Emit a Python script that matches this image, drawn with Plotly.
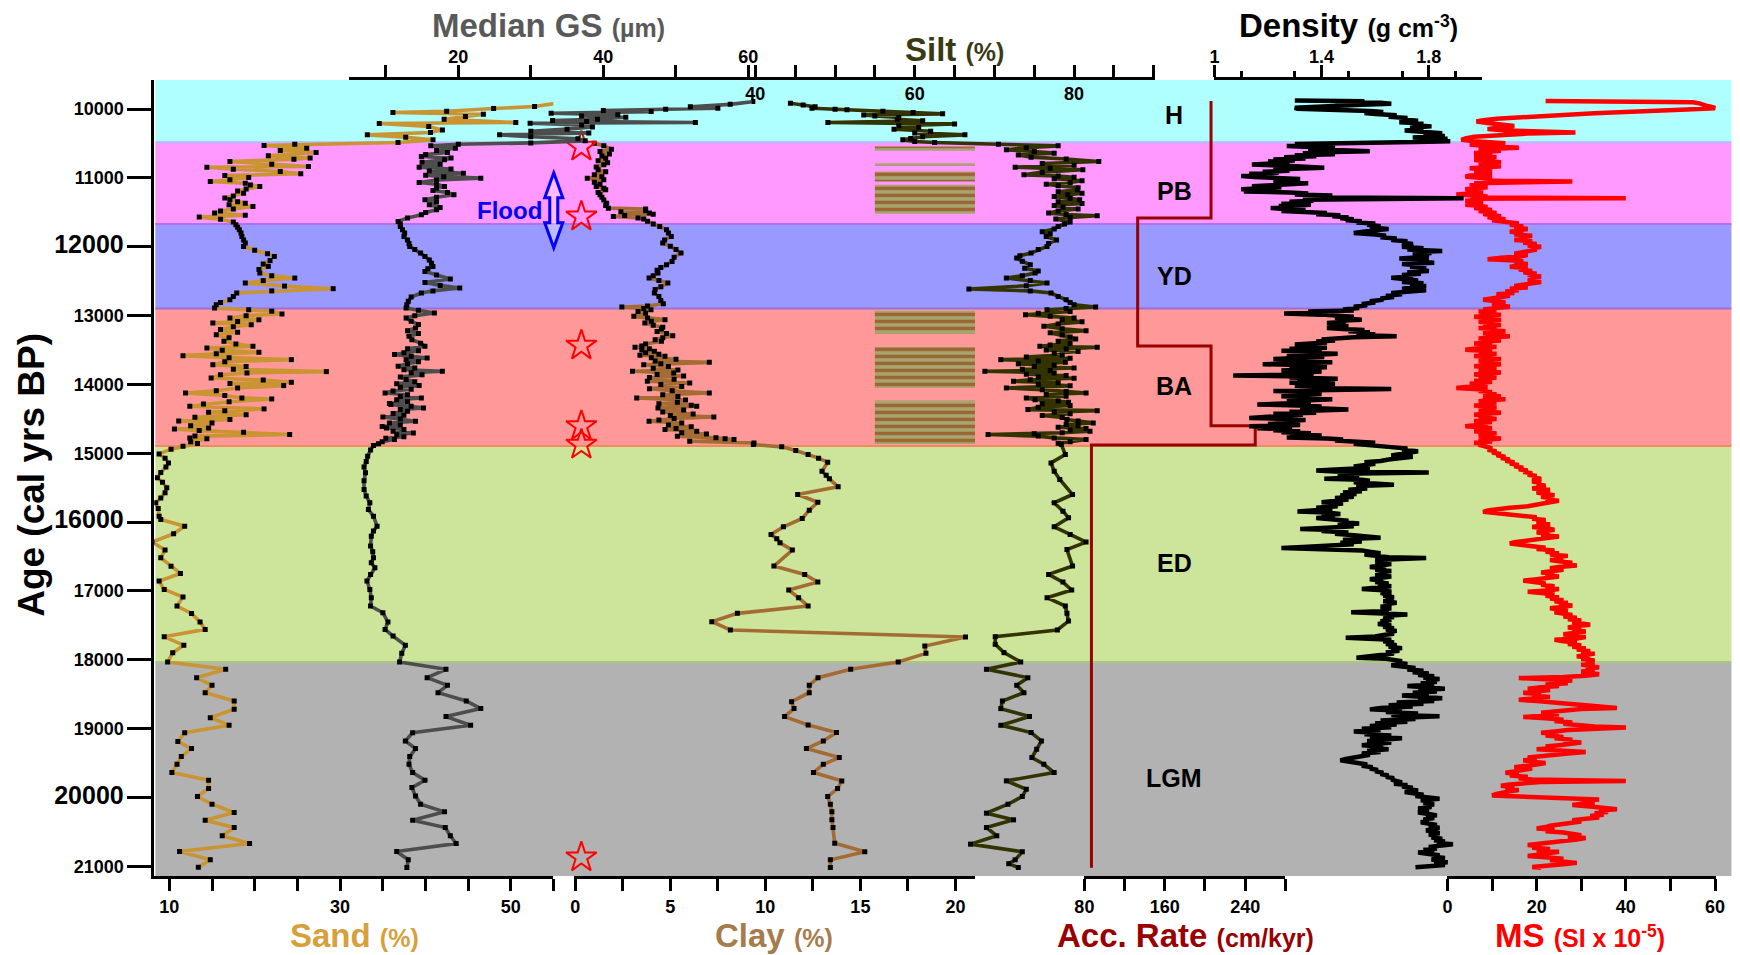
import plotly.graph_objects as go

W, H = 1740, 955
FONT = "Liberation Sans"

# ---------------------------------------------------------------- data
AGE_TICKS = list(range(10000, 21001, 1000))
AGE_TICKS_LARGE = [12000, 16000, 20000]

BAND_NAMES = ["H", "PB", "YD", "BA", "ED", "LGM"]
BAND_EDGES = [9575, 10480, 11670, 12895, 14895, 18030, 21142]
BAND_LABEL_AGES = [10091, 11196, 12420, 14026, 16600, 19720]

# (age cal yr BP, sand %)
SAND = [
    (9914, 55.4), (9962, 52.8), (9991, 48.0), (10030, 42.5), (10049, 36.2), (10073, 46.8), (10107, 44.7),
    (10146, 42.2), (10194, 50.6), (10209, 34.6), (10252, 40.4), (10301, 42.0), (10339, 40.6), (10373, 33.2),
    (10407, 37.7), (10446, 40.9), (10485, 36.8),
    (10509, 24.7), (10528, 21.1), (10567, 26.1), (10600, 23.0), (10630, 27.2), (10678, 21.6), (10710, 26.5),
    (10727, 24.6), (10760, 17.1), (10800, 22.0), (10833, 26.3), (10843, 14.4), (10872, 17.5), (10905, 23.0),
    (10939, 25.4), (10965, 16.5), (10993, 19.3), (11026, 17.1), (11051, 14.8), (11075, 18.9), (11100, 19.5),
    (11123, 20.6), (11160, 19.0), (11190, 18.0), (11220, 18.7), (11260, 17.5), (11290, 16.5), (11317, 17.1),
    (11345, 18.0), (11365, 18.9), (11390, 17.0), (11413, 19.8), (11450, 17.5), (11480, 16.0), (11510, 15.3),
    (11540, 18.9), (11568, 13.5), (11600, 16.0), (11640, 17.5), (11679, 17.8),
    (11715, 18.0), (11752, 18.2), (11800, 18.4), (11849, 18.5), (11900, 18.7), (11946, 18.9), (11994, 18.7),
    (12050, 20.0), (12100, 21.5), (12139, 22.3), (12200, 21.8), (12250, 21.0), (12284, 21.6), (12330, 20.5),
    (12381, 20.6), (12420, 22.0), (12454, 24.7), (12490, 21.0), (12526, 18.9), (12570, 23.5), (12608, 29.2),
    (12640, 22.0), (12671, 17.9), (12720, 17.5), (12768, 17.1), (12810, 16.0), (12841, 15.5), (12889, 15.3),
    (12913, 19.3), (12935, 22.0), (12976, 23.2), (13000, 19.0), (13034, 17.1), (13060, 20.5), (13085, 18.0),
    (13107, 15.1), (13131, 19.6), (13160, 17.5), (13200, 16.0), (13240, 18.0), (13276, 15.5), (13320, 17.0),
    (13373, 16.4), (13410, 17.8), (13445, 19.8), (13470, 14.4), (13503, 16.2), (13532, 20.5), (13555, 15.5),
    (13581, 11.6), (13610, 17.0), (13639, 24.3), (13670, 16.5), (13712, 15.1), (13740, 19.0), (13780, 17.5),
    (13813, 28.4), (13832, 19.1), (13860, 16.0), (13905, 14.9), (13935, 21.0), (13968, 24.3), (13987, 17.1),
    (14016, 23.4), (14050, 18.0), (14090, 15.5), (14123, 11.9), (14160, 16.5), (14195, 18.5), (14210, 22.0),
    (14250, 17.0), (14285, 14.0), (14316, 12.4), (14355, 21.1), (14380, 16.5), (14403, 14.6), (14440, 19.0),
    (14475, 13.0), (14510, 17.1), (14530, 11.1), (14560, 15.0), (14600, 12.5), (14631, 14.6), (14645, 10.6),
    (14670, 13.5), (14694, 18.7), (14727, 24.1), (14750, 13.0), (14776, 12.4), (14790, 14.4), (14830, 12.5),
    (14858, 13.3), (14897, 11.6),
    (14940, 10.2), (15008, 8.8), (15070, 9.5), (15139, 9.9), (15200, 9.6), (15280, 9.0), (15356, 8.6),
    (15420, 9.2), (15500, 9.7), (15574, 9.5), (15650, 9.0), (15719, 8.4), (15800, 8.7), (15913, 8.8),
    (15960, 9.0), (16058, 11.8), (16169, 10.5), (16290, 8.0), (16406, 9.5), (16518, 9.0), (16639, 10.2),
    (16745, 11.3), (16856, 8.8), (16977, 9.4), (17089, 11.6), (17219, 10.9), (17326, 12.6), (17451, 13.6),
    (17558, 14.2), (17664, 9.4), (17790, 11.7), (17897, 10.4), (18032, 9.8),
    (18138, 16.6), (18259, 13.2), (18371, 15.0), (18477, 14.2), (18598, 17.6), (18719, 17.6), (18840, 14.8),
    (18951, 17.0), (19058, 11.8), (19188, 11.0), (19290, 12.6), (19406, 11.4), (19517, 10.9), (19638, 10.3),
    (19749, 14.6), (19870, 14.6), (19986, 13.3), (20098, 15.0), (20219, 17.6), (20330, 14.2), (20436, 17.6),
    (20557, 16.2), (20669, 19.4), (20785, 11.2), (20906, 14.8), (21012, 13.4),
]

# (age, median grain size um)
MEDIAN_GS = [
    (9889, 60.8), (9930, 57.5), (9965, 52.0), (9986, 55.8), (10001, 48.6), (10020, 40.0), (10035, 46.6),
    (10059, 32.8), (10080, 42.0), (10100, 37.0), (10117, 43.1), (10146, 39.2), (10165, 33.0), (10180, 37.7),
    (10194, 52.7), (10204, 29.9), (10230, 37.0), (10260, 38.5), (10290, 35.0), (10320, 30.0), (10345, 38.0),
    (10373, 25.7), (10400, 30.0), (10430, 36.5), (10460, 37.5), (10490, 30.0),
    (10510, 20.0), (10533, 16.2), (10567, 19.6), (10600, 17.0), (10630, 18.5), (10660, 15.5), (10688, 14.9),
    (10710, 19.0), (10736, 18.1), (10770, 15.0), (10800, 17.5), (10843, 14.6), (10870, 19.0), (10900, 16.0),
    (10930, 20.7), (10960, 15.5), (10980, 18.0), (11002, 23.1), (11030, 17.0), (11065, 14.6), (11090, 17.0),
    (11123, 18.1), (11150, 17.0), (11180, 16.5), (11210, 18.5), (11244, 19.4), (11280, 17.0), (11317, 15.4),
    (11350, 17.0), (11390, 16.0), (11430, 17.5), (11462, 17.0), (11500, 15.5), (11534, 14.9), (11580, 13.0),
    (11631, 11.7),
    (11670, 12.0), (11704, 12.0), (11750, 12.3), (11800, 12.6), (11849, 12.5), (11900, 13.0), (11950, 13.2),
    (11994, 13.3), (12040, 14.0), (12090, 14.8), (12139, 15.4), (12190, 16.0), (12240, 16.3), (12284, 16.5),
    (12320, 15.8), (12357, 15.4), (12410, 17.0), (12468, 18.9), (12517, 15.4), (12560, 17.5), (12599, 20.2),
    (12640, 16.5), (12671, 14.9), (12730, 13.5), (12792, 13.1), (12840, 12.9), (12889, 12.8),
    (12920, 14.5), (12962, 16.7), (13000, 14.0), (13034, 12.8), (13080, 13.5), (13130, 14.5), (13179, 14.1),
    (13220, 13.0), (13260, 14.5), (13300, 13.2), (13349, 13.6), (13400, 14.8), (13445, 15.4), (13480, 13.0),
    (13510, 14.5), (13540, 12.5), (13566, 11.2), (13590, 13.5), (13615, 15.7), (13640, 12.8), (13670, 14.5),
    (13700, 13.0), (13736, 11.7), (13760, 14.0), (13785, 12.5), (13808, 17.8), (13830, 13.5), (13860, 15.0),
    (13890, 12.0), (13929, 12.8), (13960, 14.0), (13990, 11.5), (14016, 14.6), (14040, 12.0), (14070, 13.5),
    (14095, 11.0), (14123, 9.9), (14150, 13.0), (14175, 12.0), (14195, 14.9), (14220, 11.5), (14250, 13.0),
    (14275, 10.5), (14292, 10.7), (14315, 13.5), (14340, 15.2), (14365, 12.0), (14390, 13.0), (14420, 11.0),
    (14445, 12.5), (14471, 9.6), (14500, 12.0), (14534, 14.1), (14560, 10.5), (14590, 12.0), (14610, 9.5),
    (14631, 10.1), (14655, 12.5), (14680, 11.0), (14703, 13.8), (14730, 11.5), (14760, 12.5), (14780, 10.0),
    (14800, 11.2), (14830, 9.5), (14860, 9.0), (14887, 8.3),
    (14950, 7.9), (15042, 7.5), (15120, 7.3), (15200, 7.0), (15284, 7.2), (15400, 7.0), (15526, 7.0),
    (15620, 7.3), (15719, 7.8), (15816, 7.6), (15913, 8.3), (16058, 8.8), (16130, 8.3), (16203, 8.0),
    (16348, 7.9), (16430, 8.2), (16518, 8.3), (16590, 8.0), (16663, 8.5), (16760, 7.9), (16856, 7.4),
    (16977, 7.8), (17098, 8.0), (17219, 7.9), (17316, 9.6), (17451, 10.3), (17558, 9.9), (17655, 11.0),
    (17790, 12.7), (17906, 12.2), (18032, 11.9),
    (18138, 18.3), (18259, 15.7), (18371, 18.5), (18477, 17.2), (18598, 21.1), (18709, 23.1), (18825, 18.3),
    (18951, 21.7), (19058, 13.7), (19179, 12.7), (19290, 14.1), (19406, 13.3), (19517, 13.2), (19638, 13.7),
    (19749, 15.4), (19856, 13.6), (19977, 14.1), (20098, 14.8), (20209, 18.1), (20330, 13.7), (20436, 18.2),
    (20557, 18.9), (20669, 19.7), (20785, 11.5), (20906, 13.1), (21017, 12.9),
]

# (age, clay %)
CLAY = [
    (10494, 1.0), (10530, 1.5), (10581, 1.9), (10615, 1.3), (10650, 1.8), (10680, 1.4), (10712, 1.6),
    (10750, 1.2), (10780, 1.7), (10809, 1.5), (10840, 1.1), (10881, 1.2), (10910, 1.6), (10954, 1.0),
    (10980, 1.4), (11002, 0.63), (11026, 1.5), (11060, 1.0), (11090, 1.3), (11123, 1.1), (11150, 1.5),
    (11172, 1.6), (11210, 1.2), (11244, 1.3), (11280, 1.4), (11320, 1.5), (11365, 1.65), (11400, 1.6),
    (11438, 1.74), (11450, 3.7), (11476, 3.7), (11490, 2.4), (11510, 3.9), (11525, 4.1), (11545, 2.6),
    (11559, 2.0), (11580, 3.3), (11597, 3.6), (11630, 3.8), (11670, 4.1),
    (11704, 4.44), (11750, 4.8), (11800, 4.9), (11849, 5.05), (11900, 4.7), (11946, 4.6), (11990, 5.0),
    (12040, 5.3), (12091, 5.56), (12150, 5.2), (12212, 5.09), (12260, 4.8), (12300, 4.5), (12340, 4.3),
    (12381, 4.35), (12420, 4.1), (12454, 3.88), (12490, 4.4), (12526, 4.87), (12580, 4.5), (12620, 4.2),
    (12671, 4.16), (12720, 4.4), (12780, 4.5), (12826, 4.63), (12860, 3.8), (12874, 2.45),
    (12895, 3.6), (12913, 3.98), (12940, 3.3), (12965, 3.7), (13010, 3.08), (13034, 3.8), (13058, 4.72),
    (13080, 4.0), (13107, 3.66), (13140, 4.1), (13170, 4.6), (13194, 4.53), (13230, 4.3), (13260, 4.8),
    (13291, 5.13), (13320, 4.6), (13350, 4.2), (13373, 4.53), (13410, 3.7), (13440, 3.5), (13460, 3.14),
    (13480, 3.9), (13500, 3.5), (13518, 4.16), (13540, 3.7), (13560, 4.4), (13575, 3.4), (13590, 4.72),
    (13610, 4.0), (13635, 5.3), (13660, 4.2), (13678, 7.05), (13700, 4.5), (13712, 3.6), (13740, 4.9),
    (13765, 4.1), (13790, 5.4), (13808, 3.01), (13832, 5.18), (13855, 4.3), (13875, 5.7), (13900, 3.9),
    (13925, 5.2), (13953, 3.79), (13978, 6.02), (14000, 4.5), (14030, 5.6), (14060, 3.9), (14090, 5.1),
    (14123, 7.05), (14150, 4.6), (14175, 5.4), (14195, 3.23), (14225, 5.8), (14258, 5.37), (14280, 4.4),
    (14300, 6.1), (14316, 6.39), (14340, 4.35), (14370, 5.7), (14400, 4.6), (14430, 6.2), (14450, 5.0),
    (14471, 7.29), (14495, 5.2), (14515, 4.4), (14534, 3.88), (14560, 5.6), (14590, 4.9), (14615, 6.1),
    (14638, 5.3), (14655, 4.72), (14679, 6.39), (14700, 5.6), (14720, 6.9), (14752, 5.37), (14775, 7.4),
    (14790, 7.88), (14800, 8.35), (14824, 6.02), (14850, 9.4), (14873, 9.37),
    (14906, 10.86), (14960, 11.6), (15018, 12.25), (15070, 12.8), (15129, 13.28), (15260, 12.98),
    (15320, 13.2), (15371, 13.37), (15487, 13.83), (15598, 11.7), (15710, 12.76), (15826, 12.31),
    (15947, 11.94), (16068, 10.95), (16179, 10.3), (16240, 10.6), (16300, 10.77), (16406, 11.42),
    (16638, 10.45), (16759, 12.07), (16871, 12.76), (16987, 11.23), (17098, 11.75), (17219, 12.25),
    (17325, 8.53), (17446, 7.18), (17567, 8.16), (17669, 20.53), (17800, 18.39), (17906, 18.45),
    (18032, 16.99),
    (18138, 14.49), (18259, 12.77), (18370, 12.31), (18477, 12.31), (18608, 11.38), (18709, 11.51),
    (18825, 11.01), (18946, 12.25), (19057, 13.74), (19178, 13.05), (19290, 12.16), (19420, 13.89),
    (19517, 13.05), (19638, 12.53), (19759, 14.02), (19870, 13.8), (19986, 13.28), (20098, 13.42),
    (20209, 13.5), (20325, 13.5), (20436, 13.56), (20664, 13.65), (20789, 15.23), (20906, 13.42),
    (21017, 13.42),
]

# (age, silt %)
SILT = [
    (9914, 44.4), (9940, 46.0), (9965, 47.5), (9986, 47.1), (10000, 50.0), (10010, 51.5), (10030, 56.0),
    (10049, 59.8), (10068, 63.5), (10083, 53.6), (10100, 55.0), (10120, 58.0), (10146, 57.8), (10170, 61.0),
    (10194, 49.1), (10214, 65.0), (10240, 58.0), (10265, 60.5), (10291, 57.4), (10320, 62.0), (10345, 60.0),
    (10373, 66.3), (10400, 61.0), (10425, 59.5), (10446, 58.5), (10470, 60.0), (10485, 62.5), (10510, 70.5),
    (10533, 78.0),
    (10560, 74.0), (10591, 71.5), (10615, 75.0), (10639, 77.5), (10665, 73.0), (10697, 74.6), (10725, 79.0),
    (10760, 83.1), (10790, 76.0), (10815, 80.0), (10843, 72.6), (10860, 77.0), (10881, 81.1), (10915, 76.0),
    (10954, 73.7), (10970, 78.0), (10988, 80.0), (11010, 77.5), (11040, 81.0), (11065, 79.5), (11090, 76.5),
    (11113, 78.0), (11140, 80.5), (11172, 80.4), (11200, 78.0), (11220, 81.0), (11244, 79.2), (11270, 77.5),
    (11295, 79.5), (11317, 80.7), (11345, 78.0), (11370, 81.0), (11400, 77.5), (11423, 78.6), (11450, 80.5),
    (11480, 78.0), (11510, 76.8), (11530, 79.0), (11549, 82.9), (11575, 79.5), (11597, 77.7), (11640, 79.5),
    (11670, 78.8),
    (11704, 78.0), (11740, 77.5), (11780, 76.0), (11810, 77.0), (11849, 76.5), (11900, 77.8), (11950, 76.8),
    (11994, 76.6), (12040, 75.5), (12091, 74.6), (12130, 73.2), (12163, 72.8), (12210, 73.5), (12260, 74.5),
    (12310, 73.8), (12350, 75.5), (12381, 75.1), (12420, 73.5), (12454, 71.5), (12490, 74.5), (12526, 76.6),
    (12565, 74.0), (12613, 66.8), (12640, 74.5), (12671, 77.1), (12720, 78.0), (12770, 79.0), (12810, 79.5),
    (12841, 80.0), (12874, 82.7),
    (12895, 79.0), (12913, 76.6), (12940, 79.5), (12965, 75.5), (12986, 73.9), (13010, 77.0), (13034, 80.0),
    (13060, 78.5), (13090, 81.0), (13120, 78.0), (13155, 76.2), (13190, 78.5), (13220, 81.5), (13250, 77.0),
    (13280, 78.5), (13310, 79.5), (13339, 80.2), (13370, 78.0), (13400, 79.5), (13425, 77.0), (13445, 75.7),
    (13460, 82.9), (13480, 79.0), (13500, 76.5), (13520, 80.5), (13545, 77.5), (13570, 78.5), (13600, 74.0),
    (13620, 79.5), (13639, 70.8), (13660, 75.5), (13678, 78.9), (13700, 73.0), (13720, 77.5), (13740, 75.0),
    (13760, 80.0), (13780, 73.5), (13795, 77.0), (13808, 68.8), (13832, 77.5), (13850, 74.0), (13870, 79.0),
    (13890, 75.5), (13910, 80.0), (13930, 74.5), (13953, 72.4), (13975, 78.0), (13995, 75.5), (14020, 79.5),
    (14050, 71.5), (14075, 76.0), (14100, 79.0), (14123, 81.5), (14145, 76.5), (14170, 79.0), (14195, 74.0),
    (14220, 75.1), (14240, 78.0), (14258, 79.3), (14280, 76.0), (14305, 79.5), (14330, 75.5), (14365, 74.2),
    (14380, 82.9), (14400, 77.5), (14425, 79.5), (14450, 76.0), (14480, 78.5), (14510, 79.1), (14530, 80.5),
    (14558, 82.4), (14580, 79.0), (14600, 80.5), (14620, 78.0), (14640, 81.5), (14660, 79.5), (14680, 82.0),
    (14700, 78.5), (14715, 75.0), (14727, 69.2), (14750, 75.5), (14776, 77.5), (14800, 81.5), (14830, 79.5),
    (14855, 78.0), (14873, 78.4),
    (15018, 78.9), (15139, 77.1), (15260, 77.5), (15380, 78.2), (15598, 79.8), (15719, 77.5), (15840, 78.6),
    (15937, 79.3), (16068, 77.5), (16179, 79.5), (16290, 81.5), (16397, 79.1), (16638, 79.8), (16759, 76.8),
    (16871, 78.6), (16987, 79.7), (17098, 76.6), (17219, 78.9), (17325, 79.1), (17437, 79.3), (17567, 77.9),
    (17664, 70.1), (17775, 70.1), (17896, 71.2), (18032, 73.3),
    (18138, 69.0), (18259, 74.2), (18370, 72.8), (18477, 73.7), (18598, 71.0), (18709, 70.8), (18825, 74.4),
    (18951, 70.8), (19057, 74.6), (19178, 75.9), (19299, 75.3), (19420, 74.7), (19517, 76.2), (19638, 77.5),
    (19759, 71.5), (19880, 74.0), (19986, 73.5), (20098, 71.7), (20228, 69.0), (20325, 72.4), (20436, 69.0),
    (20557, 70.3), (20678, 67.0), (20789, 73.5), (20906, 72.6), (20962, 71.8), (21017, 73.0),
]

# (age, dry bulk density g cm-3)
DENSITY = [
    (9875, 1.30), (9885, 1.56), (9895, 1.45), (9905, 1.62), (9920, 1.66), (9935, 1.55), (9950, 1.44),
    (9965, 1.38), (9980, 1.30), (9995, 1.31), (10010, 1.48), (10025, 1.58), (10040, 1.63), (10055, 1.56),
    (10070, 1.60), (10090, 1.68), (10110, 1.65), (10130, 1.72), (10150, 1.70), (10170, 1.76), (10190, 1.69),
    (10210, 1.78), (10230, 1.74), (10250, 1.81), (10270, 1.73), (10290, 1.78), (10310, 1.71), (10330, 1.80),
    (10350, 1.85), (10370, 1.78), (10390, 1.86), (10410, 1.74), (10430, 1.87), (10450, 1.80), (10465, 1.88),
    (10478, 1.75),
    (10490, 1.42), (10505, 1.30), (10520, 1.40), (10535, 1.27), (10550, 1.36), (10565, 1.45), (10580, 1.35),
    (10595, 1.50), (10610, 1.58), (10625, 1.40), (10640, 1.33), (10655, 1.45), (10670, 1.30), (10685, 1.38),
    (10700, 1.26), (10715, 1.34), (10730, 1.22), (10745, 1.30), (10760, 1.20), (10775, 1.28), (10790, 1.16),
    (10805, 1.14), (10820, 1.25), (10835, 1.35), (10850, 1.41), (10865, 1.30), (10880, 1.22), (10895, 1.28),
    (10910, 1.18), (10925, 1.24), (10940, 1.13), (10955, 1.20), (10970, 1.10), (10985, 1.15), (11000, 1.27),
    (11015, 1.32), (11030, 1.24), (11045, 1.30), (11060, 1.22), (11075, 1.35), (11090, 1.28), (11105, 1.20),
    (11120, 1.14), (11135, 1.25), (11150, 1.18), (11165, 1.10), (11180, 1.22), (11195, 1.11), (11210, 1.28),
    (11225, 1.35), (11240, 1.30), (11255, 1.44), (11270, 1.38), (11285, 1.40), (11295, 1.93), (11300, 1.40),
    (11315, 1.33), (11330, 1.37), (11345, 1.28), (11360, 1.32), (11375, 1.25), (11390, 1.36), (11405, 1.24),
    (11420, 1.30), (11435, 1.21), (11450, 1.26), (11465, 1.34), (11480, 1.25), (11495, 1.36), (11510, 1.42),
    (11525, 1.38), (11540, 1.47), (11555, 1.44), (11570, 1.50), (11585, 1.47), (11600, 1.52), (11615, 1.49),
    (11630, 1.55), (11645, 1.53), (11660, 1.60),
    (11680, 1.57), (11700, 1.62), (11720, 1.58), (11740, 1.65), (11760, 1.60), (11780, 1.55), (11800, 1.52),
    (11820, 1.60), (11840, 1.64), (11860, 1.62), (11880, 1.68), (11900, 1.66), (11920, 1.72), (11940, 1.70),
    (11960, 1.74), (11980, 1.73), (12000, 1.70), (12020, 1.78), (12040, 1.72), (12060, 1.85), (12075, 1.76),
    (12090, 1.81), (12110, 1.74), (12130, 1.80), (12150, 1.77), (12170, 1.69), (12190, 1.80), (12210, 1.75),
    (12230, 1.82), (12250, 1.70), (12270, 1.77), (12290, 1.73), (12310, 1.79), (12330, 1.76), (12350, 1.80),
    (12370, 1.72), (12390, 1.77), (12410, 1.70), (12430, 1.74), (12450, 1.66), (12470, 1.72), (12490, 1.76),
    (12510, 1.70), (12530, 1.78), (12550, 1.73), (12570, 1.79), (12590, 1.74), (12610, 1.70), (12630, 1.79),
    (12650, 1.72), (12670, 1.66), (12690, 1.70), (12710, 1.64), (12730, 1.67), (12750, 1.62), (12770, 1.63),
    (12790, 1.58), (12810, 1.60), (12830, 1.55), (12850, 1.57), (12870, 1.52), (12890, 1.54),
    (12910, 1.48), (12925, 1.52), (12940, 1.35), (12955, 1.45), (12970, 1.26), (12985, 1.40), (13000, 1.47),
    (13015, 1.52), (13030, 1.45), (13045, 1.50), (13060, 1.55), (13075, 1.46), (13090, 1.49), (13105, 1.42),
    (13120, 1.47), (13135, 1.44), (13150, 1.50), (13165, 1.46), (13180, 1.42), (13195, 1.48), (13210, 1.56),
    (13225, 1.50), (13240, 1.58), (13255, 1.53), (13270, 1.60), (13285, 1.55), (13300, 1.68), (13315, 1.52),
    (13330, 1.47), (13345, 1.40), (13360, 1.45), (13375, 1.38), (13390, 1.42), (13405, 1.35), (13420, 1.30),
    (13435, 1.38), (13450, 1.32), (13465, 1.42), (13480, 1.28), (13495, 1.36), (13510, 1.25), (13525, 1.40),
    (13540, 1.30), (13555, 1.46), (13570, 1.34), (13585, 1.27), (13600, 1.41), (13615, 1.33), (13630, 1.22),
    (13645, 1.38), (13660, 1.30), (13675, 1.44), (13690, 1.26), (13705, 1.18), (13720, 1.36), (13735, 1.30),
    (13750, 1.42), (13765, 1.28), (13780, 1.35), (13795, 1.25), (13810, 1.40), (13825, 1.32), (13840, 1.27),
    (13855, 1.37), (13870, 1.07), (13885, 1.33), (13900, 1.28), (13915, 1.46), (13930, 1.40), (13945, 1.31),
    (13960, 1.38), (13975, 1.28), (13990, 1.45), (14005, 1.36), (14020, 1.30), (14035, 1.42), (14050, 1.35),
    (14065, 1.66), (14080, 1.38), (14095, 1.22), (14110, 1.35), (14125, 1.28), (14140, 1.40), (14155, 1.32),
    (14170, 1.25), (14185, 1.38), (14200, 1.30), (14215, 1.44), (14230, 1.33), (14245, 1.27), (14260, 1.36),
    (14275, 1.20), (14290, 1.16), (14305, 1.31), (14320, 1.40), (14335, 1.32), (14350, 1.45), (14365, 1.50),
    (14380, 1.36), (14395, 1.28), (14410, 1.38), (14425, 1.22), (14440, 1.33), (14455, 1.27), (14470, 1.20),
    (14485, 1.13), (14500, 1.28), (14515, 1.34), (14530, 1.25), (14545, 1.30), (14560, 1.26), (14575, 1.20),
    (14590, 1.32), (14605, 1.13), (14620, 1.24), (14635, 1.16), (14650, 1.29), (14665, 1.22), (14680, 1.32),
    (14695, 1.25), (14710, 1.36), (14725, 1.28), (14740, 1.40), (14755, 1.33), (14770, 1.27), (14785, 1.42),
    (14800, 1.48), (14815, 1.45), (14830, 1.55), (14845, 1.60), (14860, 1.52), (14875, 1.58),
    (14890, 1.62), (14910, 1.66), (14930, 1.72), (14950, 1.70), (14970, 1.76), (14990, 1.73), (15010, 1.71),
    (15030, 1.66), (15050, 1.74), (15070, 1.68), (15090, 1.65), (15110, 1.62), (15130, 1.56), (15150, 1.60),
    (15170, 1.55), (15190, 1.52), (15210, 1.58), (15230, 1.50), (15250, 1.38), (15265, 1.45), (15280, 1.80),
    (15295, 1.48), (15310, 1.52), (15325, 1.46), (15340, 1.54), (15355, 1.50), (15370, 1.41), (15385, 1.55),
    (15400, 1.58), (15420, 1.52), (15440, 1.60), (15455, 1.67), (15470, 1.56), (15490, 1.53), (15510, 1.57),
    (15530, 1.50), (15550, 1.55), (15570, 1.48), (15590, 1.53), (15610, 1.47), (15630, 1.52), (15650, 1.45),
    (15670, 1.50), (15690, 1.46), (15710, 1.40), (15730, 1.48), (15750, 1.42), (15770, 1.46), (15790, 1.38),
    (15810, 1.44), (15830, 1.33), (15845, 1.31), (15860, 1.42), (15880, 1.47), (15900, 1.40), (15920, 1.45),
    (15940, 1.38), (15960, 1.44), (15980, 1.50), (16000, 1.48), (16020, 1.54), (16040, 1.46), (16060, 1.52),
    (16080, 1.42), (16100, 1.32), (16115, 1.45), (16130, 1.40), (16150, 1.50), (16170, 1.45), (16190, 1.52),
    (16210, 1.56), (16225, 1.62), (16240, 1.52), (16260, 1.48), (16280, 1.55), (16300, 1.47), (16320, 1.52),
    (16340, 1.45), (16360, 1.33), (16375, 1.25), (16390, 1.48), (16410, 1.55), (16430, 1.58), (16450, 1.62),
    (16470, 1.56), (16490, 1.60), (16510, 1.65), (16520, 1.79), (16535, 1.62), (16550, 1.60), (16570, 1.64),
    (16590, 1.60), (16610, 1.66), (16630, 1.62), (16650, 1.58), (16670, 1.64), (16690, 1.60), (16710, 1.66),
    (16730, 1.62), (16750, 1.64), (16770, 1.60), (16790, 1.66), (16810, 1.62), (16830, 1.58), (16850, 1.63),
    (16870, 1.60), (16890, 1.65), (16910, 1.61), (16930, 1.66), (16950, 1.62), (16970, 1.55), (16990, 1.63),
    (17010, 1.66), (17030, 1.62), (17050, 1.66), (17070, 1.63), (17090, 1.67), (17110, 1.64), (17130, 1.67),
    (17150, 1.63), (17170, 1.68), (17190, 1.64), (17210, 1.66), (17230, 1.62), (17250, 1.66), (17270, 1.63),
    (17290, 1.65), (17310, 1.51), (17325, 1.63), (17340, 1.72), (17360, 1.64), (17380, 1.67), (17400, 1.63),
    (17420, 1.66), (17440, 1.62), (17460, 1.65), (17480, 1.61), (17500, 1.66), (17520, 1.63), (17540, 1.67),
    (17560, 1.64), (17580, 1.68), (17600, 1.65), (17620, 1.67), (17640, 1.63), (17660, 1.60), (17680, 1.49),
    (17695, 1.62), (17710, 1.66), (17730, 1.63), (17750, 1.67), (17770, 1.64), (17790, 1.68), (17810, 1.65),
    (17830, 1.70), (17850, 1.66), (17870, 1.69), (17890, 1.64), (17910, 1.67), (17930, 1.62), (17950, 1.58),
    (17970, 1.53), (17985, 1.64), (18000, 1.67), (18020, 1.70),
    (18040, 1.68), (18060, 1.72), (18080, 1.66), (18100, 1.70), (18120, 1.75), (18140, 1.72), (18160, 1.78),
    (18180, 1.74), (18200, 1.80), (18220, 1.76), (18240, 1.82), (18260, 1.78), (18280, 1.84), (18300, 1.79),
    (18320, 1.83), (18340, 1.77), (18360, 1.82), (18380, 1.72), (18400, 1.80), (18420, 1.86), (18440, 1.76),
    (18460, 1.83), (18480, 1.74), (18500, 1.80), (18520, 1.70), (18540, 1.78), (18560, 1.85), (18580, 1.76),
    (18600, 1.82), (18620, 1.68), (18640, 1.78), (18660, 1.65), (18680, 1.74), (18700, 1.62), (18720, 1.58),
    (18740, 1.70), (18760, 1.64), (18780, 1.76), (18800, 1.66), (18820, 1.84), (18840, 1.70), (18860, 1.75),
    (18880, 1.62), (18900, 1.72), (18920, 1.60), (18940, 1.68), (18960, 1.58), (18980, 1.66), (19000, 1.55),
    (19020, 1.62), (19040, 1.52), (19060, 1.60), (19080, 1.56), (19100, 1.66), (19120, 1.58), (19140, 1.70),
    (19160, 1.62), (19180, 1.57), (19200, 1.66), (19220, 1.60), (19240, 1.55), (19260, 1.63), (19280, 1.58),
    (19300, 1.65), (19320, 1.57), (19340, 1.62), (19360, 1.55), (19380, 1.58), (19400, 1.54), (19420, 1.52),
    (19440, 1.49), (19460, 1.47), (19480, 1.51), (19500, 1.53), (19520, 1.57), (19540, 1.55), (19560, 1.59),
    (19580, 1.58), (19600, 1.61), (19620, 1.60), (19640, 1.63), (19660, 1.62), (19680, 1.65), (19700, 1.64),
    (19720, 1.67), (19740, 1.66), (19760, 1.69), (19780, 1.70), (19800, 1.67), (19820, 1.72), (19840, 1.70),
    (19860, 1.74), (19880, 1.72), (19900, 1.76), (19920, 1.71), (19940, 1.74), (19960, 1.78), (19980, 1.75),
    (20000, 1.80), (20020, 1.84), (20040, 1.77), (20060, 1.81), (20080, 1.78), (20100, 1.82), (20120, 1.79),
    (20140, 1.81), (20160, 1.76), (20180, 1.80), (20200, 1.78), (20220, 1.76), (20240, 1.80), (20260, 1.83),
    (20280, 1.79), (20300, 1.82), (20320, 1.78), (20340, 1.80), (20360, 1.77), (20380, 1.81), (20400, 1.83),
    (20420, 1.80), (20440, 1.84), (20460, 1.81), (20480, 1.79), (20500, 1.82), (20520, 1.84), (20540, 1.80),
    (20560, 1.83), (20580, 1.81), (20600, 1.85), (20620, 1.82), (20640, 1.86), (20660, 1.83), (20680, 1.89),
    (20700, 1.84), (20720, 1.80), (20740, 1.83), (20760, 1.78), (20780, 1.82), (20800, 1.76), (20820, 1.80),
    (20840, 1.84), (20860, 1.82), (20880, 1.86), (20900, 1.81), (20920, 1.84), (20940, 1.87), (20960, 1.82),
    (20980, 1.86), (21000, 1.80), (21015, 1.75),
]

# (age, magnetic susceptibility SI x 10^-5)
MAG_SUS = [
    (9880, 22), (9890, 45), (9900, 55), (9915, 56.5), (9930, 57), (9950, 58), (9970, 59.5), (9985, 60),
    (10000, 55), (10020, 45), (10040, 38), (10060, 33), (10080, 27), (10100, 21), (10120, 16), (10140, 11),
    (10160, 8), (10180, 6.5), (10200, 9), (10220, 12), (10243, 15), (10270, 11), (10290, 9), (10310, 13),
    (10325, 20), (10339, 28.7), (10355, 18), (10375, 11), (10400, 6), (10425, 4), (10446, 3.1), (10465, 6),
    (10480, 11), (10494, 13),
    (10500, 9), (10515, 5), (10530, 8), (10545, 12), (10560, 16), (10575, 10), (10590, 7), (10605, 12),
    (10620, 9), (10635, 6), (10650, 10), (10665, 8), (10680, 6), (10695, 11), (10710, 8), (10725, 10),
    (10740, 6), (10755, 9), (10770, 12), (10785, 8), (10800, 10), (10815, 7), (10830, 12), (10845, 9),
    (10860, 5), (10875, 8), (10890, 10), (10905, 6), (10920, 9), (10935, 7), (10950, 10), (10965, 5),
    (10980, 4), (10995, 7), (11010, 10), (11025, 8), (11040, 12), (11050, 28), (11060, 9), (11075, 6),
    (11090, 8), (11105, 5), (11120, 7), (11135, 9), (11150, 6), (11165, 4), (11180, 7), (11195, 5),
    (11210, 8), (11225, 6), (11240, 2), (11255, 6), (11270, 9), (11285, 5), (11293, 40), (11300, 5),
    (11315, 8), (11330, 4), (11345, 7), (11360, 5), (11375, 8), (11390, 4), (11405, 7), (11420, 9),
    (11435, 6), (11450, 8), (11465, 10), (11480, 7), (11495, 9), (11510, 11), (11525, 8), (11540, 10),
    (11555, 12), (11570, 9), (11585, 11), (11600, 13), (11615, 10), (11630, 12), (11645, 14), (11660, 16),
    (11680, 14), (11700, 17), (11720, 15), (11740, 18), (11760, 16), (11780, 14), (11800, 17), (11820, 15),
    (11840, 19), (11860, 16), (11880, 18), (11900, 15), (11920, 19), (11940, 17), (11960, 20), (11980, 18),
    (12000, 21), (12020, 19), (12040, 20), (12060, 18), (12080, 17), (12100, 15), (12120, 18), (12140, 16),
    (12160, 12), (12180, 9), (12195, 14), (12210, 17), (12230, 15), (12250, 18), (12270, 16), (12290, 14),
    (12310, 18), (12330, 16), (12350, 19), (12370, 17), (12390, 20), (12410, 18), (12430, 21), (12450, 19),
    (12470, 20), (12490, 18), (12510, 21), (12530, 19), (12550, 17), (12570, 15), (12590, 18), (12610, 14),
    (12630, 16), (12650, 13), (12670, 15), (12690, 11), (12710, 14), (12730, 12), (12750, 9), (12770, 8),
    (12790, 11), (12810, 13), (12830, 10), (12850, 12), (12870, 14), (12890, 11),
    (12910, 8), (12925, 11), (12940, 7), (12955, 10), (12970, 8), (12985, 12), (13000, 9), (13015, 6),
    (13030, 10), (13045, 8), (13060, 12), (13075, 9), (13090, 7), (13105, 11), (13120, 9), (13135, 12),
    (13150, 8), (13165, 10), (13180, 7), (13195, 11), (13210, 9), (13225, 13), (13240, 10), (13255, 8),
    (13270, 12), (13285, 9), (13300, 14), (13315, 10), (13330, 7), (13345, 9), (13360, 12), (13375, 8),
    (13390, 10), (13405, 6), (13420, 9), (13435, 7), (13450, 11), (13465, 8), (13480, 5), (13495, 4),
    (13510, 8), (13525, 10), (13540, 7), (13555, 11), (13570, 9), (13585, 6), (13600, 10), (13615, 8),
    (13630, 12), (13645, 9), (13660, 7), (13675, 10), (13690, 8), (13705, 12), (13720, 9), (13735, 6),
    (13750, 10), (13765, 8), (13780, 11), (13795, 7), (13810, 9), (13825, 12), (13840, 8), (13855, 6),
    (13870, 10), (13885, 8), (13900, 11), (13915, 7), (13930, 9), (13945, 6), (13960, 10), (13975, 8),
    (13990, 5), (14005, 7), (14020, 9), (14035, 4), (14050, 2), (14065, 6), (14080, 9), (14095, 7),
    (14110, 10), (14125, 8), (14140, 11), (14155, 9), (14170, 12), (14185, 8), (14200, 10), (14215, 13),
    (14230, 9), (14245, 7), (14260, 11), (14275, 8), (14290, 10), (14305, 6), (14320, 9), (14335, 11),
    (14350, 8), (14365, 10), (14380, 7), (14395, 9), (14410, 12), (14425, 8), (14440, 6), (14455, 10),
    (14470, 7), (14485, 9), (14500, 11), (14515, 8), (14530, 6), (14545, 10), (14560, 7), (14575, 9),
    (14590, 5), (14605, 4), (14620, 8), (14635, 10), (14650, 7), (14665, 9), (14680, 6), (14695, 8),
    (14710, 11), (14725, 9), (14740, 7), (14755, 10), (14770, 8), (14785, 12), (14800, 9), (14815, 7),
    (14830, 10), (14845, 6), (14860, 8), (14875, 7),
    (14890, 8), (14910, 9), (14930, 10), (14950, 9), (14970, 11), (14990, 10), (15010, 12), (15030, 11),
    (15050, 13), (15070, 12), (15090, 14), (15110, 13), (15130, 15), (15150, 14), (15170, 16), (15190, 15),
    (15210, 17), (15230, 16), (15250, 18), (15270, 17), (15290, 19), (15310, 18), (15330, 20), (15350, 19),
    (15370, 21), (15390, 20), (15410, 19), (15430, 21), (15450, 20), (15470, 22), (15490, 21), (15510, 19),
    (15530, 23), (15550, 21), (15570, 20), (15590, 22), (15610, 24), (15630, 21), (15650, 23), (15670, 22),
    (15690, 25), (15710, 23), (15730, 21), (15750, 20), (15770, 18), (15790, 14), (15810, 11), (15830, 9),
    (15850, 8), (15870, 11), (15890, 15), (15910, 18), (15930, 20), (15950, 19), (15970, 22), (15990, 21),
    (16010, 20), (16030, 23), (16050, 21), (16070, 19), (16090, 22), (16110, 24), (16130, 22), (16150, 20),
    (16170, 23), (16190, 21), (16210, 25), (16230, 22), (16250, 20), (16270, 18), (16290, 15), (16310, 14),
    (16330, 16), (16350, 19), (16370, 22), (16390, 20), (16410, 24), (16430, 22), (16450, 25), (16470, 23),
    (16490, 27), (16510, 24), (16530, 26), (16550, 23), (16570, 25), (16590, 28), (16610, 26), (16630, 29),
    (16650, 25), (16670, 23), (16690, 26), (16710, 24), (16730, 21), (16750, 24), (16770, 22), (16790, 25),
    (16810, 23), (16830, 20), (16850, 17), (16870, 19), (16890, 22), (16910, 21), (16930, 24), (16950, 22),
    (16970, 25), (16990, 23), (17010, 18), (17030, 21), (17050, 24), (17070, 22), (17090, 25), (17110, 23),
    (17130, 26), (17150, 24), (17170, 27), (17190, 25), (17210, 28), (17230, 26), (17250, 23), (17270, 25),
    (17290, 27), (17310, 24), (17330, 26), (17350, 28), (17370, 26), (17390, 29), (17410, 27), (17430, 30),
    (17450, 28), (17470, 31), (17490, 32), (17510, 29), (17530, 27), (17550, 30), (17570, 28), (17590, 31),
    (17610, 29), (17630, 26), (17650, 28), (17670, 31), (17690, 29), (17710, 24), (17730, 26), (17750, 29),
    (17770, 27), (17790, 30), (17810, 28), (17830, 31), (17850, 29), (17870, 32), (17890, 30), (17910, 33),
    (17930, 31), (17950, 29), (17970, 32), (17990, 30), (18010, 33), (18030, 31),
    (18050, 33), (18070, 30), (18090, 32), (18110, 34), (18130, 31), (18150, 33), (18170, 30), (18190, 32),
    (18210, 34), (18230, 31), (18250, 26), (18265, 16), (18280, 22), (18300, 28), (18320, 24), (18340, 27),
    (18360, 22), (18380, 25), (18400, 21), (18420, 18), (18440, 23), (18460, 20), (18480, 17), (18500, 21),
    (18520, 19), (18540, 23), (18560, 18), (18580, 16), (18600, 20), (18620, 24), (18640, 28), (18660, 30),
    (18680, 34), (18700, 38), (18715, 30), (18730, 27), (18750, 24), (18770, 21), (18790, 25), (18810, 20),
    (18830, 17), (18850, 22), (18870, 26), (18890, 24), (18910, 28), (18930, 26), (18950, 30), (18970, 33),
    (18985, 40), (19000, 31), (19020, 27), (19040, 24), (19060, 21), (19080, 25), (19100, 22), (19120, 26),
    (19140, 24), (19160, 28), (19180, 26), (19200, 30), (19220, 28), (19240, 25), (19260, 22), (19280, 24),
    (19300, 20), (19320, 29), (19340, 31), (19360, 27), (19380, 24), (19400, 21), (19420, 18), (19440, 20),
    (19460, 17), (19480, 19), (19500, 22), (19520, 20), (19540, 17), (19560, 15), (19580, 19), (19600, 17),
    (19620, 15), (19640, 13), (19660, 16), (19680, 14), (19700, 18), (19720, 16), (19740, 19), (19760, 40),
    (19775, 21), (19790, 17), (19810, 14), (19830, 12), (19850, 15), (19870, 13), (19890, 16), (19910, 14),
    (19930, 12), (19950, 11), (19970, 10), (19985, 15), (20000, 20), (20015, 28), (20030, 34), (20050, 30),
    (20070, 33), (20090, 30), (20110, 28), (20130, 32), (20150, 35), (20170, 38), (20190, 34), (20210, 36),
    (20230, 33), (20250, 35), (20270, 32), (20290, 34), (20310, 31), (20330, 28), (20350, 30), (20370, 27),
    (20390, 25), (20410, 23), (20430, 22), (20450, 20), (20470, 24), (20490, 22), (20510, 26), (20530, 28),
    (20550, 30), (20570, 27), (20590, 31), (20610, 29), (20630, 26), (20650, 23), (20670, 20), (20690, 18),
    (20710, 21), (20730, 19), (20750, 23), (20770, 20), (20790, 25), (20810, 22), (20830, 19), (20850, 18),
    (20870, 22), (20890, 26), (20910, 23), (20930, 27), (20950, 29), (20970, 26), (20990, 22), (21010, 19),
    (21020, 21),
]

# accumulation-rate step model: interval boundaries (age) and rates (cm/kyr)
ACC_EDGES = [9880, 11580, 13440, 14600, 14880, 21020]
ACC_RATE = [206, 133, 206, 250, 87]

# radiocarbon-dated horizons
DATED_AGES = [10545, 11560, 13435, 14605, 14875, 20870]

# laminated intervals (top age, bottom age)
LAMINA_TOP = [10543, 10785, 10905, 11099, 12928, 13455, 14234]
LAMINA_BOTTOM = [10603, 10823, 11050, 11520, 13262, 14050, 14863]

# ---------------------------------------------------------------- styling
SAND_C, GS_C, CLAY_C, SILT_C = "#C99431", "#4D4D4D", "#A46C32", "#333300"
ACC_C, MS_C, DEN_C = "#990000", "#FF0000", "#000000"
BAND_FILL = ["#B0FFFF", "#FF99FF", "#9999FF", "#FF9999", "#CDE59A", "#B2B2B2"]
BAND_EDGE = ["#B8B8FF", "#B070F0", "#9A70D8", "#F08A60", "#A8C880"]

AGE_TOP, AGE_BOT = BAND_EDGES[0], BAND_EDGES[-1]
PLOT_TOP_PX, PLOT_BOT_PX = 80, 877

# horizontal placement helper (page pixels -> paper fraction), with a small
# correction for the horizontal squeeze applied by the page viewer
X_SQUEEZE, X_SHIFT = 0.989, 9.7


def fx(p):
    return ((p - X_SHIFT) / X_SQUEEZE) / W


def fy(p):
    return 1 - p / H


def unzip(pairs):
    a, v = zip(*pairs)
    return list(a), list(v)


fig = go.Figure()

tick_font = dict(family=FONT, size=18, color="black", weight="bold")


def xaxis(px0, px1, rng, major, minor_vals, side, standoff=0, **extra):
    d = dict(
        domain=[fx(px0), fx(px1)], range=rng, anchor="y", side=side,
        showgrid=False, zeroline=False, showline=True, linecolor="black", linewidth=3,
        ticks="outside", ticklen=12, tickwidth=2.5, tickcolor="black",
        tickvals=major, ticktext=[str(v) for v in major], ticklabelstandoff=standoff,
        tickfont=tick_font, fixedrange=True,
        minor=dict(tickvals=minor_vals, ticks="outside", ticklen=12, tickwidth=2.5,
                   tickcolor="black", showgrid=False),
    )
    d.update(extra)
    return d


def lm_trace(pairs, axis, color):
    ages, vals = unzip(pairs)
    return go.Scatter(
        x=vals, y=ages, xaxis=axis, yaxis="y", mode="lines+markers",
        line=dict(color=color, width=3.6),
        marker=dict(symbol="square", size=5, color="black", line=dict(width=0)),
        hoverinfo="skip",
    )


# laminated sediment intervals (striped blocks)
fig.add_trace(go.Bar(
    orientation="h", xaxis="x2", yaxis="y",
    y=[(t + b) / 2 for t, b in zip(LAMINA_TOP, LAMINA_BOTTOM)],
    width=[b - t for t, b in zip(LAMINA_TOP, LAMINA_BOTTOM)],
    x=[5.27] * len(LAMINA_TOP), base=[15.76] * len(LAMINA_TOP),
    marker=dict(
        color="#A3A36B", line=dict(width=0),
        pattern=dict(shape="-", fgcolor="#9B6632", bgcolor="#A6A670", size=7, solidity=0.5,
                     fillmode="replace"),
    ),
    hoverinfo="skip",
))

fig.add_trace(lm_trace(SAND, "x", SAND_C))
fig.add_trace(lm_trace(MEDIAN_GS, "x5", GS_C))
fig.add_trace(lm_trace(CLAY, "x2", CLAY_C))
fig.add_trace(lm_trace(SILT, "x6", SILT_C))

dens_age, dens_val = unzip(DENSITY)
fig.add_trace(go.Scatter(x=dens_val, y=dens_age, xaxis="x7", yaxis="y", mode="lines",
                         line=dict(color=DEN_C, width=4.5), hoverinfo="skip"))

ms_age, ms_val = unzip(MAG_SUS)
fig.add_trace(go.Scatter(x=ms_val, y=ms_age, xaxis="x4", yaxis="y", mode="lines",
                         line=dict(color=MS_C, width=4.5), hoverinfo="skip"))

# accumulation rate drawn as a step profile
acc_x, acc_y = [], []
for i, r in enumerate(ACC_RATE):
    acc_x += [r, r]
    acc_y += [ACC_EDGES[i], ACC_EDGES[i + 1]]
fig.add_trace(go.Scatter(x=acc_x, y=acc_y, xaxis="x3", yaxis="y", mode="lines",
                         line=dict(color=ACC_C, width=3), hoverinfo="skip"))

# dated horizons
fig.add_trace(go.Scatter(
    x=[0.32] * len(DATED_AGES), y=DATED_AGES, xaxis="x2", yaxis="y", mode="markers",
    marker=dict(symbol="star-open", size=23, color="#FF0000", line=dict(width=2, color="#FF0000")),
    cliponaxis=False, hoverinfo="skip",
))

# ---------------------------------------------------------------- axes
age_text = []
for a in AGE_TICKS:
    if a in AGE_TICKS_LARGE:
        age_text.append(f"<span style='font-size:25px'>{a}</span>")
    else:
        age_text.append(str(a))

SILT_PX_PER_PCT = 7.97

layout = dict(
    width=W, height=H, autosize=False,
    margin=dict(l=0, r=0, t=0, b=0),
    paper_bgcolor="white", plot_bgcolor="rgba(0,0,0,0)",
    showlegend=False, barmode="overlay",
    font=dict(family=FONT, color="black"),
    yaxis=dict(
        domain=[fy(PLOT_BOT_PX), fy(PLOT_TOP_PX)], range=[AGE_BOT, AGE_TOP], anchor="x", side="left",
        showgrid=False, zeroline=False, showline=True, linecolor="black", linewidth=3,
        ticks="outside", ticklen=24, tickwidth=3, tickcolor="black",
        tickvals=AGE_TICKS, ticktext=age_text, tickfont=tick_font, fixedrange=True,
    ),
    xaxis=xaxis(154, 553, [8.24, 55.0], [10, 30, 50], [15, 20, 25, 35, 40, 45, 55], "bottom"),
    xaxis2=xaxis(574, 975, [-0.05, 21.05], [0, 5, 10, 15, 20], [2.5, 7.5, 12.5, 17.5], "bottom"),
    xaxis3=xaxis(1084, 1285, [80, 280], [80, 160, 240], [120, 200, 280], "bottom"),
    xaxis4=xaxis(1447, 1716, [0, 60.3], [0, 20, 40, 60], [10, 30, 50], "bottom"),
    xaxis5=xaxis(349, 755, [4.97, 60.97], [20, 40, 60], [10, 30, 50], "top", standoff=-5),
    # silt axis starts a little left of 40 % so its first inside label is not culled
    xaxis6=xaxis(735, 1155, [40 - 20 / SILT_PX_PER_PCT, 90.2], [40, 60, 80],
                 [45, 50, 55, 65, 70, 75, 85, 90], "top", standoff=8, ticklabelposition="inside"),
    xaxis7=xaxis(1214, 1482, [1.0, 2.0], [1.0, 1.4, 1.8], [1.1, 1.3, 1.5, 1.7, 1.9], "top",
                 standoff=-5, ticktext=["1", "1.4", "1.8"]),
    # long, unlabeled density ticks between the labelled ones
    xaxis8=dict(overlaying="x7", anchor="y", side="top", range=[1.0, 2.0], showgrid=False,
                zeroline=False, showline=False, showticklabels=False, ticks="outside", ticklen=12,
                tickwidth=2.5, tickcolor="black", tickvals=[1.2, 1.6, 2.0], fixedrange=True),
)
layout["xaxis7"]["minor"]["ticklen"] = 6

# ---------------------------------------------------------------- climate-stage bands
shapes = []
for i, fill in enumerate(BAND_FILL):
    shapes.append(dict(type="rect", xref="paper", yref="y", x0=fx(155), x1=fx(1731),
                       y0=BAND_EDGES[i], y1=BAND_EDGES[i + 1], fillcolor=fill,
                       line=dict(width=0), layer="below"))
for i, col in enumerate(BAND_EDGE):
    shapes.append(dict(type="line", xref="paper", yref="y", x0=fx(155), x1=fx(1731),
                       y0=BAND_EDGES[i + 1], y1=BAND_EDGES[i + 1], line=dict(color=col, width=2),
                       layer="below"))

# double-headed flood arrow
cx, top, bot = 553.4, 173, 248
hw, sw, hl = 9, 4, 25
pts = [(cx, top), (cx + hw, top + hl), (cx + sw, top + hl), (cx + sw, bot - hl), (cx + hw, bot - hl),
       (cx, bot), (cx - hw, bot - hl), (cx - sw, bot - hl), (cx - sw, top + hl), (cx - hw, top + hl)]
path = "M " + " L ".join(f"{fx(x):.5f},{fy(y):.5f}" for x, y in pts) + " Z"
shapes.append(dict(type="path", xref="paper", yref="paper", path=path,
                   line=dict(color="#0000FF", width=3), fillcolor="rgba(255,255,255,0.35)"))
layout["shapes"] = shapes

# ---------------------------------------------------------------- text
ann = []


def title(text, unit, x, y, color):
    ann.append(dict(
        text=f"<b>{text} <span style='font-size:25px'>{unit}</span></b>",
        x=fx(x), y=fy(y), xref="paper", yref="paper", showarrow=False,
        xanchor="center", yanchor="middle", font=dict(family=FONT, size=33, color=color),
    ))


title("Median GS", "(µm)", 548, 26, "#595959")
title("Silt", "(%)", 954, 50, "#3A3A12")
title("Density", "(g cm<sup>-3</sup>)", 1348, 26, "#000000")
title("Sand", "(%)", 354, 936, "#D6A13C")
title("Clay", "(%)", 774, 936, "#A67C4C")
title("Acc. Rate", "(cm/kyr)", 1185, 936, ACC_C)
title("MS", "(SI x 10<sup>-5</sup>)", 1580, 936, MS_C)

for name, age in zip(BAND_NAMES, BAND_LABEL_AGES):
    ann.append(dict(text=f"<b>{name}</b>", x=fx(1174), y=age, xref="paper", yref="y",
                    showarrow=False, xanchor="center", yanchor="middle",
                    font=dict(family=FONT, size=25, color="black")))

ann.append(dict(text="<b>Flood</b>", x=fx(509), y=fy(211), xref="paper", yref="paper", showarrow=False,
                xanchor="center", yanchor="middle", font=dict(family=FONT, size=24, color="#0000FF")))

ann.append(dict(text="<b>Age (cal yrs BP)</b>", x=fx(31), y=fy(475), xref="paper", yref="paper",
                showarrow=False, textangle=-90, xanchor="center", yanchor="middle",
                font=dict(family=FONT, size=37, color="black")))
layout["annotations"] = ann

fig.update_layout(**layout)
fig.write_html("out.html")
